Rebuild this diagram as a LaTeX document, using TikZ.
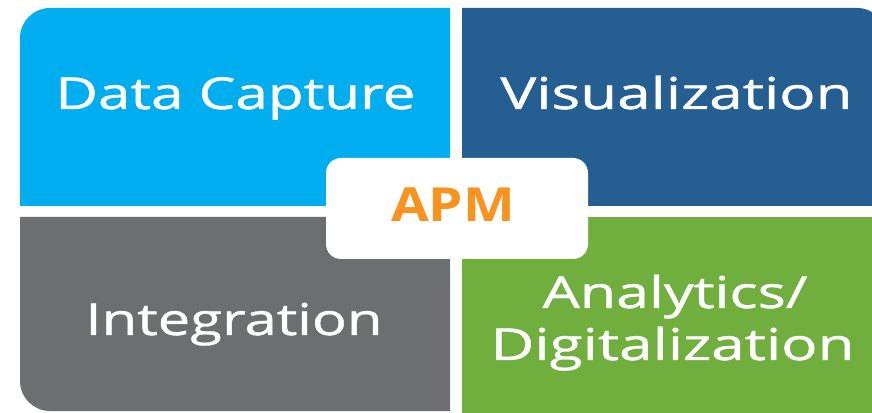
\documentclass[tikz,border=0pt]{standalone}
\usepackage{fontspec}
\setmainfont{Open Sans}
\newfontfamily\lblfont[FakeBold=0.8]{Open Sans}
\usepackage{graphicx}
\definecolor{qblue}{HTML}{00AEEF}
\definecolor{qdark}{HTML}{255E91}
\definecolor{qgray}{HTML}{6D6E70}
\definecolor{qgreen}{HTML}{70AF3E}
\definecolor{qorange}{HTML}{F7931E}
\newcommand{\fitw}[2]{\resizebox{#1pt}{\height}{#2}}
\tikzset{
  lbl/.style={anchor=base, inner sep=0pt, text=white, font=\lblfont\fontsize{44}{52}\selectfont},
  apmtxt/.style={anchor=base, inner sep=0pt, text=qorange, font=\bfseries\fontsize{47}{56}\selectfont},
  apmbox/.style={fill=white, rounded corners=15pt, minimum width=262pt, minimum height=101pt, inner sep=0pt}
}
\begin{document}
\begin{tikzpicture}[x=1pt,y=1pt]
\useasboundingbox (0,0) rectangle (872,412);
\begin{scope}
\clip (0,0) rectangle (872,412);
\fill[qblue] (450,206) -- (20,206) -- (20,374) arc[start angle=180,end angle=90,radius=30] -- (450,404) -- cycle;
\fill[qdark] (462,206) -- (462,404) -- (857,404) arc[start angle=90,end angle=0,radius=30] -- (887,206) -- cycle;
\fill[qgray] (450,195) -- (20,195) -- (20,31) arc[start angle=180,end angle=270,radius=30] -- (450,1) -- cycle;
\fill[qgreen] (462,195) -- (462,-20) -- (887,-20) -- (887,195) -- cycle;
\end{scope}
\node[apmbox] (box) at (457,203.5) {};
\node[apmtxt] (apm) at (453,190) {\fitw{124}{APM}};
\node[lbl] (dc) at (235.5,303) {\fitw{360}{Data Capture}};
\node[lbl] (vis) at (676.5,303) {\fitw{352}{Visualization}};
\node[lbl] (int) at (234,77) {\fitw{297}{Integration}};
\node[lbl] (ana) at (675,104) {\fitw{265}{Analytics/}};
\node[lbl] (dig) at (672.5,52) {\fitw{364}{Digitalization}};
\end{tikzpicture}
\end{document}
